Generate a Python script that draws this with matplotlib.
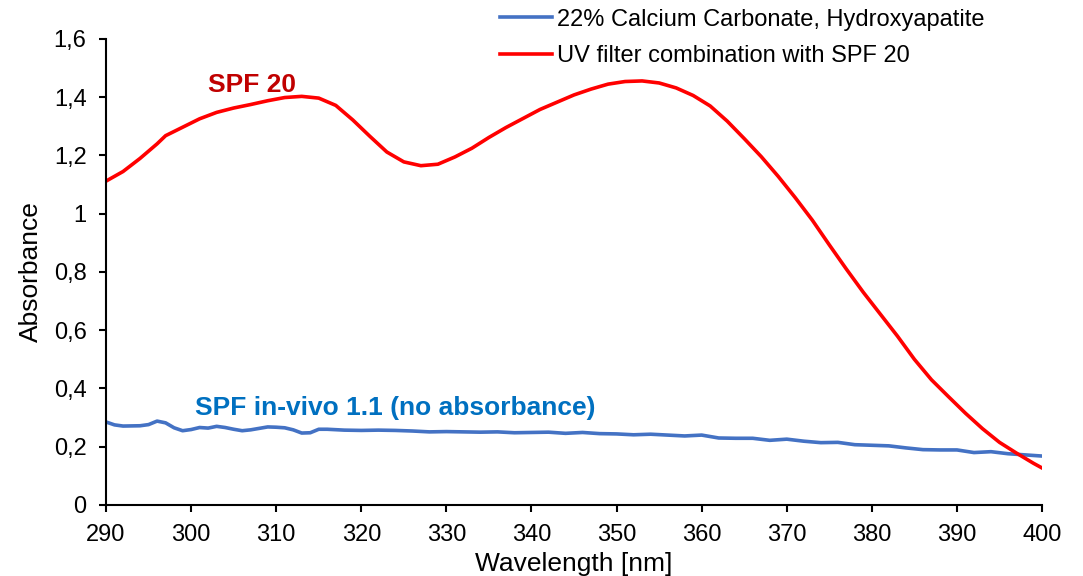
import matplotlib
matplotlib.use("Agg")
import matplotlib.pyplot as plt
from matplotlib.ticker import FuncFormatter

plt.rcParams['font.family'] = ['Liberation Sans', 'DejaVu Sans']

# UV filter combination (SPF 20)
wl_red = [290, 292, 294, 296, 297, 299, 301, 303, 305, 307, 309, 311, 313, 315,
          317, 319, 321, 323, 325, 327, 329, 331, 333, 335, 337, 339, 341, 343,
          345, 347, 349, 351, 353, 355, 357, 359, 361, 363, 365, 367, 369, 371,
          373, 375, 377, 379, 381, 383, 385, 387, 389, 391, 393, 395, 397, 399, 400]
abs_red = [1.112, 1.145, 1.19, 1.24, 1.268, 1.297, 1.326, 1.348, 1.363, 1.375, 1.388,
           1.399, 1.403, 1.397, 1.372, 1.322, 1.266, 1.212, 1.178, 1.165, 1.170, 1.195,
           1.225, 1.262, 1.296, 1.327, 1.358, 1.383, 1.408, 1.428, 1.445, 1.454,
           1.456, 1.449, 1.432, 1.406, 1.370, 1.318, 1.258, 1.196, 1.128, 1.055,
           0.978, 0.893, 0.81, 0.73, 0.655, 0.58, 0.50, 0.43, 0.372, 0.315, 0.262,
           0.215, 0.178, 0.143, 0.127]

# 22% calcium carbonate, hydroxyapatite
wl_blue = [290, 291, 292, 294, 295, 296, 297, 298, 299, 300, 301, 302, 303, 304,
           305, 306, 307, 308, 309, 310, 311, 312, 313, 314, 315, 316, 318, 320,
           322, 324, 326, 328, 330, 332, 334, 336, 338, 340, 342, 344, 346, 348,
           350, 352, 354, 356, 358, 360, 362, 364, 366, 368, 370, 372, 374, 376,
           378, 380, 382, 384, 386, 388, 390, 392, 394, 396, 398, 400]
abs_blue = [0.285, 0.275, 0.271, 0.272, 0.276, 0.288, 0.282, 0.265, 0.255, 0.259,
            0.266, 0.264, 0.270, 0.266, 0.260, 0.255, 0.258, 0.263, 0.268, 0.267,
            0.265, 0.258, 0.247, 0.248, 0.260, 0.260, 0.257, 0.256, 0.257, 0.256,
            0.254, 0.251, 0.252, 0.251, 0.250, 0.251, 0.248, 0.249, 0.250, 0.246,
            0.249, 0.245, 0.244, 0.241, 0.243, 0.240, 0.237, 0.240, 0.230, 0.229,
            0.229, 0.222, 0.226, 0.219, 0.214, 0.215, 0.207, 0.205, 0.203, 0.196,
            0.190, 0.189, 0.189, 0.180, 0.183, 0.176, 0.172, 0.168]

fs_tick = 17
fs_title = 19

fig = plt.figure(figsize=(10.83, 5.76), dpi=100)
ax = fig.add_axes([0.0979, 0.1233, 0.8643, 0.809])

ax.plot(wl_blue, abs_blue, color='#4472C4', lw=2.6,
        label='22% Calcium Carbonate, Hydroxyapatite')
ax.plot(wl_red, abs_red, color='#FF0000', lw=2.6,
        label='UV filter combination with SPF 20')

ax.set_xlim(290, 400)
ax.set_ylim(0, 1.6)
ax.set_xticks(range(290, 401, 10))
ax.set_yticks([0, 0.2, 0.4, 0.6, 0.8, 1.0, 1.2, 1.4, 1.6])
ax.yaxis.set_major_formatter(FuncFormatter(lambda v, p: ('%g' % round(v, 1)).replace('.', ',')))

for s in ['top', 'right']:
    ax.spines[s].set_visible(False)
for s in ['left', 'bottom']:
    ax.spines[s].set_linewidth(1.5)
ax.tick_params(axis='both', direction='out', length=5, width=1.5, labelsize=fs_tick)
ax.tick_params(axis='x', pad=9)
ax.tick_params(axis='y', pad=9)

ax.set_xlabel('Wavelength [nm]', fontsize=fs_title, labelpad=4)
ax.set_ylabel('Absorbance', fontsize=fs_title, labelpad=8)

ax.text(307.2, 1.442, 'SPF 20', color='#C00000', fontsize=fs_title, fontweight='bold',
        ha='center', va='center')
ax.text(324, 0.333, 'SPF in-vivo 1.1 (no absorbance)', color='#0070C0',
        fontsize=fs_title, fontweight='bold', ha='center', va='center')

fig.legend(loc='upper left', bbox_to_anchor=(0.4617, 0.985), frameon=False,
           fontsize=fs_tick, handlelength=2.2, handletextpad=0.2, labelspacing=0.62,
           borderpad=0, borderaxespad=0)

fig.savefig('out.png', dpi=100)
